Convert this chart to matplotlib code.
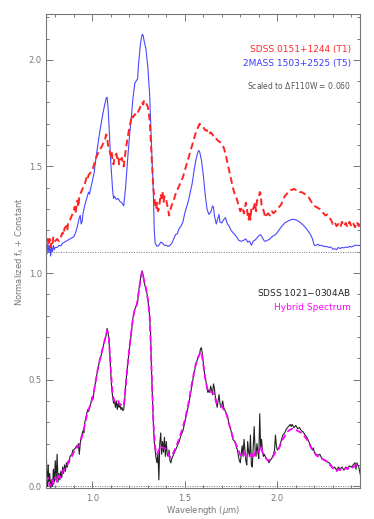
import numpy as np
import matplotlib
matplotlib.use("Agg")
import matplotlib.pyplot as plt
from matplotlib.ticker import MultipleLocator

# --- donnees ---
# T5, 2MASS 1503+2525 (sans la constante)
t5_wl = [0.750, 0.755, 0.760, 0.765, 0.770, 0.775, 0.780, 0.785, 0.790, 0.795, 0.800, 0.81, 0.82, 0.83, 0.84,
         0.85, 0.86, 0.87, 0.88, 0.89, 0.90, 0.91, 0.92, 0.93, 0.935, 0.94, 0.945, 0.95, 0.96, 0.97, 0.98, 0.985,
         0.99, 1.00, 1.01, 1.02, 1.03, 1.04, 1.05, 1.06, 1.07, 1.075, 1.08, 1.085, 1.09, 1.10, 1.11, 1.115, 1.12,
         1.13, 1.14, 1.15, 1.16, 1.17, 1.18, 1.19, 1.20, 1.21, 1.22, 1.23, 1.24, 1.245, 1.25, 1.26, 1.265, 1.27,
         1.275, 1.28, 1.29, 1.30, 1.31, 1.32, 1.33, 1.335, 1.34, 1.35, 1.36, 1.37, 1.38, 1.39, 1.40, 1.41, 1.42,
         1.43, 1.44, 1.45, 1.46, 1.47, 1.48, 1.49, 1.50, 1.51, 1.52, 1.53, 1.54, 1.55, 1.56, 1.57, 1.575, 1.58,
         1.59, 1.60, 1.61, 1.62, 1.63, 1.64, 1.65, 1.655, 1.66, 1.67, 1.68, 1.685, 1.69, 1.70, 1.71, 1.72, 1.73,
         1.74, 1.75, 1.76, 1.77, 1.78, 1.79, 1.80, 1.81, 1.82, 1.83, 1.84, 1.85, 1.86, 1.87, 1.88, 1.89, 1.90,
         1.91, 1.92, 1.93, 1.94, 1.95, 1.96, 1.97, 1.98, 1.99, 2.00, 2.02, 2.04, 2.06, 2.08, 2.10, 2.12, 2.14,
         2.16, 2.18, 2.19, 2.20, 2.21, 2.22, 2.23, 2.24, 2.25, 2.26, 2.27, 2.28, 2.29, 2.30, 2.31, 2.32, 2.33,
         2.34, 2.35, 2.36, 2.37, 2.38, 2.39, 2.40, 2.42, 2.44, 2.45]
t5_flux = [0.03, -0.01, 0.04, 0.00, 0.03, -0.02, 0.02, 0.00, 0.03, 0.01, 0.02, 0.02, 0.03, 0.027, 0.04,
           0.045, 0.05, 0.055, 0.06, 0.065, 0.07, 0.09, 0.12, 0.16, 0.17, 0.13, 0.14, 0.18, 0.22, 0.25, 0.28, 0.27,
           0.29, 0.33, 0.37, 0.44, 0.50, 0.56, 0.61, 0.66, 0.70, 0.72, 0.725, 0.68, 0.60, 0.42, 0.29, 0.25, 0.26,
           0.245, 0.25, 0.235, 0.23, 0.215, 0.30, 0.42, 0.53, 0.62, 0.72, 0.79, 0.805, 0.81, 0.88, 0.97, 1.00, 1.02,
           1.015, 0.99, 0.95, 0.87, 0.74, 0.50, 0.28, 0.10, 0.04, 0.025, 0.03, 0.045, 0.04, 0.03, 0.03, 0.025, 0.03,
           0.04, 0.06, 0.08, 0.085, 0.11, 0.12, 0.14, 0.18, 0.21, 0.24, 0.28, 0.32, 0.38, 0.43, 0.465, 0.475, 0.47,
           0.43, 0.36, 0.27, 0.20, 0.175, 0.185, 0.215, 0.21, 0.17, 0.13, 0.16, 0.175, 0.14, 0.135, 0.15, 0.16, 0.13,
           0.12, 0.10, 0.09, 0.08, 0.07, 0.055, 0.05, 0.05, 0.055, 0.06, 0.045, 0.05, 0.03, 0.05, 0.055, 0.065, 0.075,
           0.08, 0.065, 0.05, 0.05, 0.055, 0.06, 0.07, 0.075, 0.08, 0.09, 0.115, 0.135, 0.145, 0.152, 0.15, 0.14, 0.125,
           0.105, 0.08, 0.06, 0.03, 0.03, 0.035, 0.028, 0.03, 0.025, 0.024, 0.024, 0.02, 0.022, 0.012, 0.014, 0.01, 0.02,
           0.015, 0.02, 0.018, 0.022, 0.02, 0.025, 0.022, 0.03, 0.03, 0.028]

# T1, SDSS 0151+1244 (sans la constante)
t1_wl = [0.750, 0.755, 0.76, 0.765, 0.77, 0.775, 0.78, 0.785, 0.79, 0.80, 0.81, 0.82, 0.83, 0.84, 0.845,
         0.85, 0.86, 0.865, 0.87, 0.88, 0.89, 0.90, 0.905, 0.91, 0.915, 0.92, 0.925, 0.93, 0.935, 0.94, 0.95,
         0.96, 0.97, 0.975, 0.98, 0.99, 1.00, 1.01, 1.02, 1.03, 1.04, 1.05, 1.06, 1.07, 1.075, 1.08, 1.085, 1.09,
         1.10, 1.105, 1.11, 1.115, 1.12, 1.13, 1.135, 1.14, 1.145, 1.15, 1.16, 1.165, 1.17, 1.18, 1.19, 1.20,
         1.21, 1.215, 1.22, 1.23, 1.24, 1.25, 1.26, 1.27, 1.275, 1.28, 1.29, 1.30, 1.31, 1.32, 1.33, 1.34, 1.345,
         1.35, 1.355, 1.36, 1.37, 1.375, 1.38, 1.385, 1.39, 1.40, 1.41, 1.415, 1.42, 1.43, 1.44, 1.45, 1.46, 1.47,
         1.48, 1.49, 1.50, 1.51, 1.52, 1.53, 1.54, 1.55, 1.56, 1.57, 1.58, 1.585, 1.59, 1.60, 1.61, 1.62, 1.63,
         1.64, 1.65, 1.66, 1.67, 1.68, 1.69, 1.70, 1.71, 1.72, 1.73, 1.74, 1.75, 1.76, 1.77, 1.78, 1.79, 1.80,
         1.81, 1.82, 1.83, 1.835, 1.84, 1.845, 1.85, 1.855, 1.86, 1.87, 1.88, 1.885, 1.89, 1.90, 1.905, 1.91,
         1.915, 1.92, 1.93, 1.935, 1.94, 1.95, 1.96, 1.97, 1.98, 1.99, 2.00, 2.01, 2.02, 2.03, 2.04, 2.05, 2.06,
         2.07, 2.08, 2.09, 2.10, 2.11, 2.12, 2.13, 2.14, 2.15, 2.16, 2.17, 2.18, 2.19, 2.20, 2.21, 2.22, 2.23,
         2.24, 2.25, 2.26, 2.27, 2.28, 2.29, 2.30, 2.31, 2.32, 2.33, 2.34, 2.35, 2.36, 2.37, 2.38, 2.39, 2.40,
         2.41, 2.42, 2.43, 2.44, 2.45]
t1_flux = [0.04, 0.02, 0.06, 0.03, 0.06, 0.02, 0.05, 0.04, 0.07, 0.05, 0.06, 0.05, 0.07, 0.09, 0.08,
           0.11, 0.12, 0.10, 0.14, 0.15, 0.17, 0.19, 0.21, 0.18, 0.22, 0.24, 0.21, 0.26, 0.27, 0.28, 0.30,
           0.32, 0.35, 0.34, 0.36, 0.37, 0.38, 0.41, 0.44, 0.46, 0.48, 0.49, 0.51, 0.53, 0.55, 0.54, 0.50, 0.49,
           0.45, 0.47, 0.42, 0.41, 0.44, 0.46, 0.44, 0.45, 0.41, 0.43, 0.44, 0.42, 0.40, 0.47, 0.53, 0.58,
           0.62, 0.64, 0.63, 0.645, 0.64, 0.66, 0.68, 0.70, 0.69, 0.71, 0.70, 0.68, 0.62, 0.46, 0.30, 0.22, 0.20,
           0.23, 0.19, 0.20, 0.27, 0.25, 0.28, 0.23, 0.26, 0.24, 0.20, 0.17, 0.19, 0.22, 0.24, 0.27, 0.29, 0.31,
           0.33, 0.35, 0.38, 0.41, 0.44, 0.47, 0.50, 0.53, 0.56, 0.58, 0.60, 0.595, 0.59, 0.585, 0.57, 0.57, 0.55,
           0.56, 0.55, 0.53, 0.53, 0.52, 0.515, 0.50, 0.49, 0.46, 0.42, 0.38, 0.34, 0.30, 0.27, 0.25, 0.22, 0.19,
           0.21, 0.18, 0.23, 0.21, 0.17, 0.15, 0.19, 0.15, 0.21, 0.20, 0.23, 0.19, 0.24, 0.25, 0.28, 0.27,
           0.22, 0.21, 0.18, 0.16, 0.17, 0.18, 0.17, 0.19, 0.18, 0.19, 0.20, 0.21, 0.22, 0.24, 0.26, 0.27, 0.28,
           0.29, 0.29, 0.295, 0.29, 0.29, 0.28, 0.28, 0.275, 0.27, 0.26, 0.255, 0.24, 0.225, 0.215, 0.21, 0.205, 0.20,
           0.19, 0.18, 0.17, 0.175, 0.16, 0.15, 0.13, 0.14, 0.12, 0.13, 0.115, 0.14, 0.12, 0.135, 0.115, 0.14, 0.12,
           0.135, 0.115, 0.14, 0.12, 0.15]

# SDSS 1021-0304AB
ab_wl = [0.750, 0.752, 0.755, 0.758, 0.762, 0.765, 0.770, 0.775, 0.780, 0.785, 0.790, 0.795, 0.800, 0.805,
         0.810, 0.815, 0.820, 0.825, 0.830, 0.835, 0.840, 0.845, 0.850, 0.855, 0.860, 0.865, 0.870, 0.875,
         0.880, 0.890, 0.895, 0.900, 0.910, 0.915, 0.920, 0.925, 0.930, 0.935, 0.940, 0.950, 0.955, 0.960,
         0.965, 0.970, 0.975, 0.980, 0.985, 0.990, 1.000, 1.005, 1.010, 1.020, 1.030, 1.040, 1.050, 1.060,
         1.070, 1.075, 1.080, 1.085, 1.090, 1.095, 1.100, 1.105, 1.110, 1.115, 1.120, 1.125, 1.130, 1.135,
         1.140, 1.145, 1.150, 1.155, 1.160, 1.165, 1.170, 1.175, 1.180, 1.190, 1.200, 1.210, 1.220, 1.230,
         1.240, 1.245, 1.250, 1.260, 1.265, 1.270, 1.275, 1.280, 1.285, 1.290, 1.300, 1.310, 1.315, 1.320,
         1.325, 1.330, 1.335, 1.340, 1.345, 1.350, 1.355, 1.360, 1.365, 1.370, 1.375, 1.380, 1.385, 1.390,
         1.395, 1.400, 1.405, 1.410, 1.415, 1.420, 1.425, 1.430, 1.440, 1.450, 1.460, 1.470, 1.480, 1.490,
         1.500, 1.510, 1.520, 1.530, 1.540, 1.550, 1.560, 1.570, 1.580, 1.585, 1.590, 1.595, 1.600, 1.605,
         1.610, 1.615, 1.620, 1.625, 1.630, 1.635, 1.640, 1.645, 1.650, 1.655, 1.660, 1.665, 1.670, 1.675,
         1.680, 1.685, 1.690, 1.695, 1.700, 1.705, 1.710, 1.715, 1.720, 1.730, 1.740, 1.750, 1.755, 1.760,
         1.770, 1.775, 1.780, 1.785, 1.790, 1.795, 1.800, 1.805, 1.810, 1.815, 1.820, 1.825, 1.830, 1.835,
         1.840, 1.845, 1.850, 1.855, 1.860, 1.865, 1.870, 1.875, 1.880, 1.885, 1.890, 1.895, 1.900, 1.905,
         1.910, 1.915, 1.920, 1.925, 1.930, 1.940, 1.950, 1.955, 1.960, 1.970, 1.980, 1.985, 1.990, 1.995,
         2.000, 2.010, 2.020, 2.030, 2.040, 2.050, 2.060, 2.070, 2.075, 2.080, 2.090, 2.100, 2.110, 2.120,
         2.130, 2.140, 2.150, 2.160, 2.170, 2.180, 2.190, 2.195, 2.200, 2.210, 2.220, 2.230, 2.240, 2.250,
         2.260, 2.270, 2.280, 2.290, 2.300, 2.310, 2.320, 2.330, 2.340, 2.350, 2.360, 2.370, 2.380, 2.390,
         2.400, 2.410, 2.420, 2.425, 2.430, 2.440, 2.450]
ab_flux = [0.02, 0.14, 0.05, 0.00, 0.10, 0.02, 0.06, -0.01, 0.03, 0.00, 0.08, 0.02, 0.12, 0.03,
           0.15, 0.02, 0.06, 0.03, 0.07, 0.04, 0.09, 0.06, 0.10, 0.07, 0.11, 0.09, 0.12, 0.11,
           0.14, 0.15, 0.17, 0.17, 0.18, 0.19, 0.18, 0.20, 0.15, 0.20, 0.23, 0.26, 0.25, 0.30,
           0.32, 0.34, 0.36, 0.35, 0.37, 0.38, 0.42, 0.41, 0.45, 0.50, 0.55, 0.59, 0.62, 0.66,
           0.69, 0.71, 0.74, 0.72, 0.69, 0.62, 0.53, 0.46, 0.42, 0.39, 0.40, 0.37, 0.40, 0.36,
           0.39, 0.37, 0.38, 0.36, 0.37, 0.355, 0.36, 0.40, 0.47, 0.56, 0.64, 0.71, 0.79, 0.83,
           0.85, 0.86, 0.91, 0.97, 1.00, 1.01, 0.99, 0.96, 0.94, 0.93, 0.88, 0.80, 0.72, 0.55,
           0.42, 0.30, 0.21, 0.17, 0.13, 0.11, 0.16, 0.03, 0.20, 0.25, 0.15, 0.21, 0.16, 0.23,
           0.14, 0.21, 0.15, 0.14, 0.17, 0.12, 0.11, 0.13, 0.15, 0.17, 0.19, 0.21, 0.24, 0.26,
           0.30, 0.34, 0.38, 0.43, 0.48, 0.53, 0.57, 0.60, 0.62, 0.645, 0.65, 0.62, 0.58, 0.54,
           0.51, 0.49, 0.46, 0.44, 0.45, 0.44, 0.47, 0.45, 0.43, 0.48, 0.46, 0.42, 0.40, 0.37,
           0.40, 0.43, 0.39, 0.37, 0.38, 0.40, 0.37, 0.36, 0.35, 0.33, 0.29, 0.26, 0.24, 0.22,
           0.21, 0.20, 0.18, 0.17, 0.14, 0.12, 0.11, 0.15, 0.19, 0.14, 0.22, 0.17, 0.12, 0.10,
           0.21, 0.16, 0.14, 0.24, 0.10, 0.09, 0.18, 0.28, 0.17, 0.14, 0.20, 0.16, 0.13, 0.34,
           0.18, 0.22, 0.16, 0.14, 0.15, 0.13, 0.12, 0.11, 0.12, 0.13, 0.15, 0.17, 0.24, 0.19,
           0.17, 0.18, 0.21, 0.24, 0.25, 0.27, 0.28, 0.29, 0.28, 0.29, 0.275, 0.285, 0.27, 0.275,
           0.26, 0.255, 0.24, 0.23, 0.21, 0.19, 0.17, 0.18, 0.16, 0.15, 0.145, 0.15, 0.13, 0.125,
           0.12, 0.115, 0.11, 0.10, 0.085, 0.09, 0.075, 0.09, 0.08, 0.09, 0.075, 0.09, 0.085, 0.095,
           0.09, 0.10, 0.11, 0.08, 0.11, 0.09, 0.05]

# spectre hybride T1+T5
hy_wl = [0.750, 0.76, 0.77, 0.78, 0.79, 0.80, 0.81, 0.82, 0.83, 0.84, 0.85, 0.86, 0.87, 0.88, 0.89, 0.90,
         0.91, 0.92, 0.93, 0.94, 0.95, 0.96, 0.97, 0.98, 0.99, 1.00, 1.01, 1.02, 1.03, 1.04, 1.05, 1.06, 1.07,
         1.08, 1.085, 1.09, 1.10, 1.11, 1.12, 1.13, 1.14, 1.15, 1.16, 1.17, 1.18, 1.19, 1.20, 1.21, 1.22, 1.23,
         1.24, 1.25, 1.26, 1.27, 1.28, 1.29, 1.30, 1.31, 1.32, 1.33, 1.34, 1.35, 1.36, 1.37, 1.38, 1.39, 1.40,
         1.41, 1.42, 1.43, 1.44, 1.45, 1.46, 1.47, 1.48, 1.49, 1.50, 1.51, 1.52, 1.53, 1.54, 1.55, 1.56, 1.57,
         1.58, 1.59, 1.60, 1.61, 1.62, 1.63, 1.64, 1.65, 1.66, 1.67, 1.68, 1.69, 1.70, 1.71, 1.72, 1.73, 1.74,
         1.75, 1.76, 1.77, 1.78, 1.79, 1.80, 1.81, 1.82, 1.83, 1.84, 1.85, 1.86, 1.87, 1.88, 1.89, 1.90, 1.91,
         1.92, 1.93, 1.94, 1.95, 1.96, 1.97, 1.98, 1.99, 2.00, 2.01, 2.02, 2.03, 2.04, 2.05, 2.06, 2.07, 2.08,
         2.09, 2.10, 2.11, 2.12, 2.13, 2.14, 2.15, 2.16, 2.17, 2.18, 2.19, 2.20, 2.21, 2.22, 2.23, 2.24, 2.25,
         2.26, 2.27, 2.28, 2.29, 2.30, 2.31, 2.32, 2.33, 2.34, 2.35, 2.36, 2.37, 2.38, 2.39, 2.40, 2.41, 2.42,
         2.43, 2.44, 2.45]
hy_flux = [0.02, 0.04, 0.00, 0.03, 0.01, 0.04, 0.02, 0.05, 0.04, 0.07, 0.08, 0.09, 0.11, 0.13, 0.14, 0.16,
           0.18, 0.185, 0.19, 0.22, 0.25, 0.29, 0.33, 0.36, 0.38, 0.41, 0.45, 0.50, 0.55, 0.59, 0.625, 0.66, 0.695,
           0.73, 0.72, 0.69, 0.55, 0.43, 0.40, 0.39, 0.40, 0.385, 0.38, 0.375, 0.46, 0.56, 0.645, 0.72, 0.79, 0.83,
           0.85, 0.905, 0.965, 1.005, 0.965, 0.93, 0.88, 0.80, 0.56, 0.30, 0.18, 0.15, 0.17, 0.19, 0.18, 0.18, 0.17,
           0.155, 0.135, 0.14, 0.16, 0.18, 0.20, 0.225, 0.25, 0.28, 0.31, 0.35, 0.39, 0.44, 0.49, 0.535, 0.575, 0.60,
           0.62, 0.63, 0.57, 0.51, 0.465, 0.44, 0.445, 0.44, 0.43, 0.39, 0.39, 0.385, 0.375, 0.36, 0.35, 0.325, 0.29,
           0.26, 0.23, 0.21, 0.19, 0.17, 0.145, 0.15, 0.16, 0.14, 0.15, 0.14, 0.15, 0.13, 0.16, 0.17, 0.16, 0.19,
           0.16, 0.14, 0.13, 0.12, 0.125, 0.13, 0.145, 0.16, 0.165, 0.18, 0.20, 0.22, 0.235, 0.25, 0.26, 0.265, 0.27,
           0.265, 0.265, 0.26, 0.255, 0.25, 0.24, 0.23, 0.22, 0.205, 0.185, 0.17, 0.16, 0.145, 0.14, 0.14, 0.13, 0.125,
           0.12, 0.115, 0.105, 0.095, 0.085, 0.08, 0.07, 0.08, 0.075, 0.085, 0.08, 0.085, 0.08, 0.09, 0.085, 0.09, 0.095,
           0.10, 0.095, 0.10]

offset = 1.1
gris = '#777777'

fig = plt.figure(figsize=(3.74, 5.19), dpi=100)
ax = fig.add_axes([0.123, 0.059, 0.8396, 0.914])

# lignes de reference
ax.axhline(0.0, color=gris, lw=0.7, ls=(0, (1, 1.5)))
ax.axhline(offset, color=gris, lw=0.7, ls=(0, (1, 1.5)))

# panneau du haut : T1 et T5
ax.plot(t5_wl, np.array(t5_flux) + offset, color='#4848ff', lw=0.8)
ax.plot(t1_wl, np.array(t1_flux) + offset, color='#ff2424', lw=1.4, ls=(0, (3.5, 2)))

# panneau du bas : binaire et hybride
ax.plot(ab_wl, ab_flux, color='#222222', lw=0.8)
ax.plot(hy_wl, hy_flux, color='#ff00ff', lw=1.3, ls=(0, (3.5, 2)))

ax.set_xlim(0.75, 2.447)
ax.set_ylim(-0.01, 2.215)

ax.xaxis.set_major_locator(MultipleLocator(0.5))
ax.xaxis.set_minor_locator(MultipleLocator(0.1))
ax.yaxis.set_major_locator(MultipleLocator(0.5))
ax.yaxis.set_minor_locator(MultipleLocator(0.1))
ax.tick_params(which='both', direction='in', top=True, right=True, color=gris,
               labelcolor=gris, labelsize=6, width=0.7)
ax.tick_params(which='major', length=5)
ax.tick_params(which='minor', length=2.5)
ax.tick_params(axis='x', pad=4)
ax.tick_params(axis='y', pad=3)
ax.xaxis.set_major_formatter(matplotlib.ticker.FormatStrFormatter('%.1f'))
ax.yaxis.set_major_formatter(matplotlib.ticker.FormatStrFormatter('%.1f'))
for s in ax.spines.values():
    s.set_color(gris)
    s.set_linewidth(0.8)

ax.set_xlabel('Wavelength ($\\mu$m)', fontsize=6, color=gris)
ax.set_ylabel('Normalized f$_\\lambda$ + Constant', fontsize=6, color=gris)
ax.xaxis.set_label_coords(0.5, -0.032)
ax.yaxis.set_label_coords(-0.064, 0.5)

# textes
ax.text(2.4, 2.048, 'SDSS 0151+1244 (T1)', color='#ff2a2a', fontsize=6.5, ha='right', va='center')
ax.text(2.4, 1.984, '2MASS 1503+2525 (T5)', color='#3a3aff', fontsize=6.5, ha='right', va='center')
ax.text(2.4, 1.88, 'Scaled to $\\Delta$F110W = 0.060', color='#555555', fontsize=5.5, ha='right', va='center')
ax.text(2.4, 0.908, 'SDSS 1021$-$0304AB', color='#222222', fontsize=6.5, ha='right', va='center')
ax.text(2.4, 0.84, 'Hybrid Spectrum', color='#ff00ff', fontsize=6.5, ha='right', va='center')

plt.savefig('out.png', dpi=100)
